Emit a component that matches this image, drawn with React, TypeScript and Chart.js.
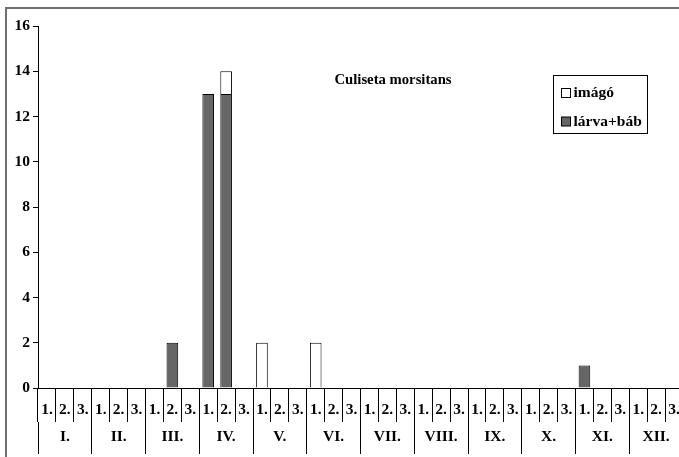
import React, { useEffect, useRef } from "react";
import { Chart, registerables } from "chart.js";

Chart.register(...registerables);

const decadeLabels: string[] = [
  "1.", "2.", "3.", "1.", "2.", "3.", "1.", "2.", "3.", "1.", "2.", "3.",
  "1.", "2.", "3.", "1.", "2.", "3.", "1.", "2.", "3.", "1.", "2.", "3.",
  "1.", "2.", "3.", "1.", "2.", "3.", "1.", "2.", "3.", "1.", "2.", "3.",
];
const monthLabels: string[] = ["I.", "II.", "III.", "IV.", "V.", "VI.", "VII.", "VIII.", "IX.", "X.", "XI.", "XII."];

// lárva+báb (bottom of stack)
const larvaBab: number[] = [
  0, 0, 0, 0, 0, 0, 0, 2, 0, 13, 13, 0,
  0, 0, 0, 0, 0, 0, 0, 0, 0, 0, 0, 0,
  0, 0, 0, 0, 0, 0, 1, 0, 0, 0, 0, 0,
];
// imágó (top of stack)
const imago: number[] = [
  0, 0, 0, 0, 0, 0, 0, 0, 0, 0, 1, 0,
  2, 0, 0, 2, 0, 0, 0, 0, 0, 0, 0, 0,
  0, 0, 0, 0, 0, 0, 0, 0, 0, 0, 0, 0,
];

const titleText = "Culiseta morsitans";
const FONT = "'Liberation Serif', 'Times New Roman', serif";
const DARK = "#666666";
const TICK_SIZE = 15.5;

export default function App() {
  const ref = useRef<HTMLCanvasElement | null>(null);

  useEffect(() => {
    if (!ref.current) return;

    const decorPlugin = {
      id: "decor",
      beforeDraw(chart: any) {
        const ctx = chart.ctx;
        ctx.save();
        ctx.fillStyle = "#ffffff";
        ctx.fillRect(0, 0, chart.width, chart.height);
        ctx.strokeStyle = "#707070";
        ctx.lineWidth = 2;
        ctx.beginPath();
        ctx.moveTo(6, chart.height);
        ctx.lineTo(6, 8);
        ctx.lineTo(chart.width, 8);
        ctx.stroke();
        ctx.restore();
      },
      afterDraw(chart: any) {
        const ctx = chart.ctx;
        ctx.save();
        // title
        ctx.font = `bold 14.7px ${FONT}`;
        ctx.fillStyle = "#000";
        ctx.textAlign = "center";
        ctx.textBaseline = "middle";
        ctx.fillText(titleText, 393, 80);
        // legend
        ctx.strokeStyle = "#000";
        ctx.lineWidth = 1;
        ctx.strokeRect(553.5, 75.5, 94, 58);
        const ds = chart.data.datasets;
        const order = [1, 0];
        order.forEach((di: number, i: number) => {
          const d = ds[di];
          const cy = 93 + i * 28.5;
          ctx.fillStyle = d.backgroundColor;
          ctx.fillRect(561.5, cy - 4.5, 9, 9);
          ctx.strokeRect(561.5, cy - 4.5, 9, 9);
          ctx.fillStyle = "#000";
          ctx.textAlign = "left";
          ctx.textBaseline = "middle";
          ctx.font = `bold ${TICK_SIZE}px ${FONT}`;
          ctx.fillText(d.label, 573.5, cy);
        });
        ctx.restore();
      },
    };

    const chart = new Chart(ref.current, {
      type: "bar",
      data: {
        labels: decadeLabels,
        datasets: [
          {
            label: "lárva+báb",
            data: larvaBab,
            backgroundColor: DARK,
            borderColor: "#000",
            borderWidth: 1,
            barPercentage: 0.65,
            categoryPercentage: 1,
          },
          {
            label: "imágó",
            data: imago,
            backgroundColor: "#ffffff",
            borderColor: "#000",
            borderWidth: 1,
            barPercentage: 0.65,
            categoryPercentage: 1,
          },
        ],
      },
      options: {
        responsive: false,
        animation: false,
        layout: { padding: { top: 26, right: 2, bottom: 2, left: 0 } },
        plugins: {
          legend: { display: false },
          title: { display: false },
          tooltip: { enabled: false },
        },
        scales: {
          x: {
            type: "category",
            stacked: true,
            offset: true,
            position: "bottom",
            grid: {
              offset: true,
              drawOnChartArea: false,
              drawTicks: true,
              tickLength: 34,
              color: "#000",
              lineWidth: 1,
            },
            border: { display: true, color: "#000", width: 1 },
            ticks: {
              autoSkip: false,
              maxRotation: 0,
              minRotation: 0,
              padding: -21,
              color: "#000",
              font: { family: FONT, size: TICK_SIZE, weight: "bold" },
            },
            afterFit(scale: any) {
              scale.height = 34;
            },
          },
          x2: {
            type: "category",
            labels: monthLabels,
            offset: true,
            position: "bottom",
            grid: {
              offset: true,
              drawOnChartArea: false,
              drawTicks: true,
              tickLength: 32,
              color: "#000",
              lineWidth: 1,
            },
            border: { display: false },
            ticks: {
              autoSkip: false,
              maxRotation: 0,
              minRotation: 0,
              padding: -26,
              color: "#000",
              font: { family: FONT, size: TICK_SIZE, weight: "bold" },
            },
            afterFit(scale: any) {
              scale.height = 33;
            },
          },
          y: {
            stacked: true,
            min: 0,
            max: 16,
            ticks: {
              stepSize: 2,
              padding: 3,
              color: "#000",
              font: { family: FONT, size: TICK_SIZE, weight: "bold" },
            },
            grid: {
              drawOnChartArea: false,
              drawTicks: true,
              tickLength: 5,
              color: "#000",
            },
            border: { display: true, color: "#000", width: 1 },
            afterFit(scale: any) {
              scale.width = 38;
            },
          },
        },
      },
      plugins: [decorPlugin],
    } as any);

    return () => chart.destroy();
  }, []);

  return (
    <div style={{ position: "absolute", left: 0, top: 0, width: 679, height: 457, overflow: "hidden", background: "#fff" }}>
      <canvas ref={ref} width={685} height={457} style={{ display: "block" }} />
    </div>
  );
}
